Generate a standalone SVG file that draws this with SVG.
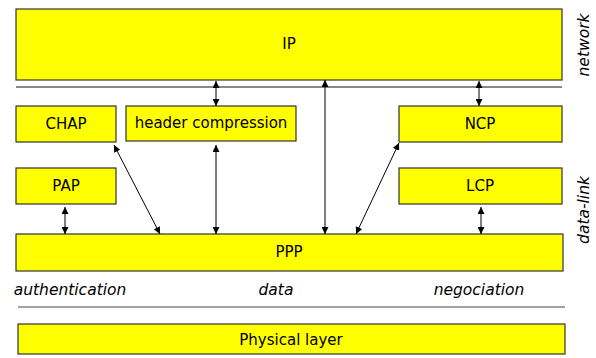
<svg xmlns="http://www.w3.org/2000/svg" width="596" height="358" viewBox="0 0 596 358">
<style>
.box{fill:#ffff00;stroke:#333;stroke-width:1.2}
.t{font-family:"DejaVu Sans","Liberation Sans",sans-serif;font-size:15px;fill:#000;text-anchor:middle;dominant-baseline:central}
.it{font-family:"DejaVu Sans","Liberation Sans",sans-serif;font-size:15.5px;font-style:italic;fill:#000;text-anchor:middle}
.c{stroke:#000;stroke-width:1;fill:none;marker-start:url(#ah);marker-end:url(#ah)}
</style>
<defs>
<marker id="ah" viewBox="0 0 10 10" refX="10" refY="5" markerWidth="7" markerHeight="7" markerUnits="userSpaceOnUse" orient="auto-start-reverse">
<path d="M0,0 L10,5 L0,10 z" fill="#000"/>
</marker>
</defs>
<rect width="596" height="358" fill="#fff"/>
<line x1="16" y1="87" x2="562" y2="87" stroke="#888" stroke-width="2"/>
<line x1="18" y1="307" x2="565" y2="307" stroke="#444" stroke-width="1"/>
<g id="ip"><rect class="box" x="16" y="9" width="546" height="71"/><text class="t" x="289" y="44">IP</text></g>
<g id="chap"><rect class="box" x="16" y="106" width="100" height="36"/><text class="t" x="66" y="124">CHAP</text></g>
<g id="hc"><rect class="box" x="126" y="106" width="170" height="35"/><text class="t" x="211" y="123">header compression</text></g>
<g id="ncp"><rect class="box" x="399" y="106" width="163" height="36"/><text class="t" x="480" y="124">NCP</text></g>
<g id="pap"><rect class="box" x="16" y="168" width="100" height="36"/><text class="t" x="66" y="186">PAP</text></g>
<g id="lcp"><rect class="box" x="399" y="168" width="163" height="36"/><text class="t" x="480" y="186">LCP</text></g>
<g id="ppp"><rect class="box" x="16" y="234" width="547" height="37"/><text class="t" x="289" y="252">PPP</text></g>
<g id="phys"><rect class="box" x="18" y="324" width="547" height="30"/><text class="t" x="291" y="340">Physical layer</text></g>
<g id="labels">
<text class="it" x="70" y="295">authentication</text>
<text class="it" x="276" y="295">data</text>
<text class="it" x="479" y="295">negociation</text>
<text class="it" transform="translate(589,45) rotate(-90)">network</text>
<text class="it" transform="translate(589,210) rotate(-90)">data-link</text>
</g>
<g id="connectors">
<line class="c" x1="216" y1="81" x2="216" y2="106"/>
<line class="c" x1="325" y1="80" x2="325" y2="234"/>
<line class="c" x1="479" y1="81" x2="479" y2="106"/>
<line class="c" x1="114" y1="145" x2="160" y2="234"/>
<line class="c" x1="216" y1="145" x2="216" y2="234"/>
<line class="c" x1="399" y1="143" x2="356" y2="234"/>
<line class="c" x1="65" y1="207" x2="65" y2="234"/>
<line class="c" x1="481" y1="207" x2="481" y2="234"/>
</g>
</svg>
